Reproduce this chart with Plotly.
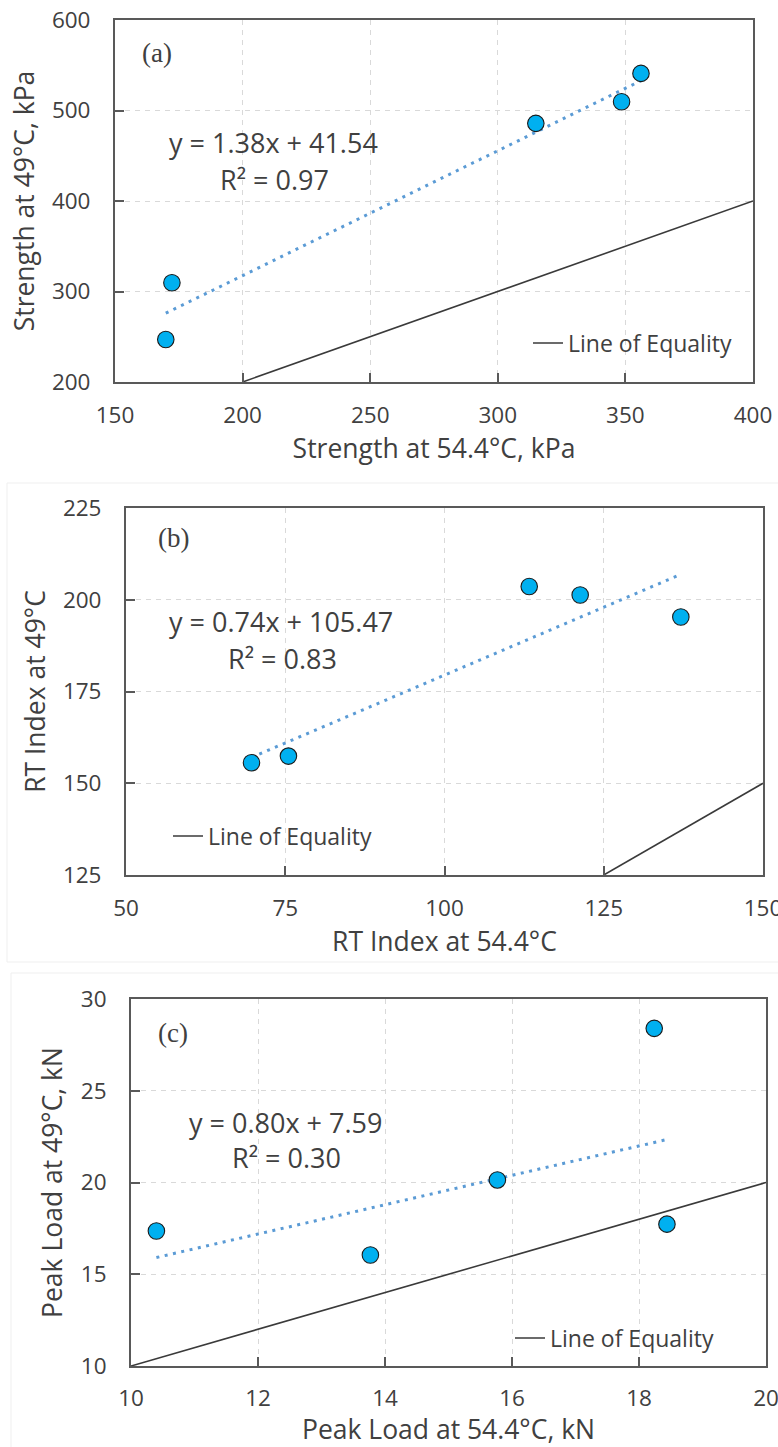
import plotly.graph_objects as go

W, H = 778, 1447

# (a) Strength, kPa
strength_544 = [169.9, 172.3, 314.9, 348.5, 356.1]
strength_49 = [247.0, 309.7, 485.8, 509.7, 541.0]
fit_a = (1.38, 41.54, 0.97)
equality_a = [200, 400]

# (b) RT Index
rt_544 = [69.7, 75.5, 113.3, 121.3, 137.1]
rt_49 = [155.6, 157.4, 203.6, 201.3, 195.3]
fit_b = (0.74, 105.47, 0.83)
equality_b = [125, 150]

# (c) Peak load, kN
load_544 = [10.4, 13.77, 15.77, 18.24, 18.44]
load_49 = [17.36, 16.05, 20.14, 28.4, 17.73]
fit_c = (0.80, 7.59, 0.30)
equality_c = [10, 20]

FONT = "Open Sans"
INK = "#404040"
FRAME = "#595959"
POINT = "#00b0f0"
TREND = "#5b9bd5"


def px(x):
    return x / W


def py(y):
    return 1 - y / H


panels = [
    dict(name="a", x=strength_544, y=strength_49, fit=fit_a, eq=equality_a,
         xr=[150, 400], xd=50, yr=[200, 600], yd=100,
         xdom=[px(115), px(753)], ydom=[py(382), py(20)],
         xtitle="Strength at 54.4°C, kPa", ytitle="Strength at 49°C, kPa",
         tag=(157, 53), eqpos=(273, 142), r2pos=(274, 180), leg=(528, 343),
         xstand=(12, 7)),
    dict(name="b", x=rt_544, y=rt_49, fit=fit_b, eq=equality_b,
         xr=[50, 150], xd=25, yr=[125, 225], yd=25,
         xdom=[px(126), px(763)], ydom=[py(875), py(508)],
         xtitle="RT Index at 54.4°C", ytitle="RT Index at 49°C",
         tag=(173, 538), eqpos=(281, 622), r2pos=(282, 658), leg=(168, 836),
         xstand=(12, 7)),
    dict(name="c", x=load_544, y=load_49, fit=fit_c, eq=equality_c,
         xr=[10, 20], xd=2, yr=[10, 30], yd=5,
         xdom=[px(131), px(766)], ydom=[py(1366), py(999)],
         xtitle="Peak Load at 54.4°C, kN", ytitle="Peak Load at 49°C, kN",
         tag=(173, 1033), eqpos=(285, 1122), r2pos=(286, 1157), leg=(510, 1338),
         xstand=(11, 8)),
]

fig = go.Figure()
annotations = []
layout_axes = {}

for i, p in enumerate(panels):
    k = "" if i == 0 else str(i + 1)
    xa, ya = "x" + k, "y" + k
    legend_id = "legend" + k
    slope, intercept, r2 = p["fit"]

    # line of equality (y = x)
    fig.add_trace(go.Scatter(
        x=p["eq"], y=p["eq"], mode="lines", name="Line of Equality",
        line=dict(color="#3a3a3a", width=1.6),
        xaxis=xa, yaxis=ya, legend=legend_id, showlegend=True,
        hoverinfo="skip"))

    # linear trend line over the measured range
    x0, x1 = min(p["x"]), max(p["x"])
    fig.add_trace(go.Scatter(
        x=[x0, x1], y=[slope * x0 + intercept, slope * x1 + intercept],
        mode="lines", line=dict(color=TREND, width=3, dash="3px,5.5px"),
        xaxis=xa, yaxis=ya, showlegend=False, hoverinfo="skip"))

    # measurements
    fig.add_trace(go.Scatter(
        x=p["x"], y=p["y"], mode="markers",
        marker=dict(size=16.5, color=POINT, line=dict(color="#1a1a1a", width=1.1)),
        xaxis=xa, yaxis=ya, showlegend=False))

    axis_common = dict(
        showline=True, linecolor=FRAME, linewidth=2, mirror=True,
        ticks="inside", ticklen=9, tickwidth=1.5, tickcolor=FRAME,
        showgrid=True, gridcolor="#d9d9d9", gridwidth=1, griddash="5px,5px",
        zeroline=False, automargin=False, ticklabeloverflow="allow",
        tickfont=dict(family=FONT, size=22.5, color=INK),
    )
    layout_axes["xaxis" + k] = dict(
        axis_common, range=p["xr"], dtick=p["xd"], tick0=p["xr"][0],
        domain=p["xdom"], anchor=ya, ticklabelstandoff=p["xstand"][0],
        title=dict(text=p["xtitle"], font=dict(family=FONT, size=26.5, color=INK),
                   standoff=p["xstand"][1]))
    layout_axes["yaxis" + k] = dict(
        axis_common, range=p["yr"], dtick=p["yd"], tick0=p["yr"][0],
        domain=p["ydom"], anchor=xa, ticklabelstandoff=18,
        title=dict(text=p["ytitle"], font=dict(family=FONT, size=26.5, color=INK),
                   standoff=10))

    layout_axes[legend_id] = dict(
        x=px(p["leg"][0]), y=py(p["leg"][1]), xanchor="left", yanchor="middle",
        xref="paper", yref="paper", bgcolor="rgba(0,0,0,0)",
        font=dict(family=FONT, size=23, color=INK))

    label_common = dict(xref="paper", yref="paper", showarrow=False,
                        xanchor="center", yanchor="middle")
    annotations.append(dict(
        label_common, text="(" + p["name"] + ")",
        x=px(p["tag"][0]), y=py(p["tag"][1]),
        font=dict(family="Liberation Serif", size=27, color=INK)))
    annotations.append(dict(
        label_common, text=f"y = {slope:.2f}x + {intercept:.2f}",
        x=px(p["eqpos"][0]), y=py(p["eqpos"][1]),
        font=dict(family=FONT, size=27, color=INK)))
    annotations.append(dict(
        label_common, text=f"R² = {r2:.2f}",
        x=px(p["r2pos"][0]), y=py(p["r2pos"][1]),
        font=dict(family=FONT, size=27, color=INK)))

# faint outlines of the lower two figure panels
shapes = [
    dict(type="rect", xref="paper", yref="paper",
         x0=px(7), x1=px(779), y0=py(962), y1=py(483),
         line=dict(color="#efefef", width=1), layer="below"),
    dict(type="rect", xref="paper", yref="paper",
         x0=px(11), x1=px(779), y0=py(1450), y1=py(973),
         line=dict(color="#efefef", width=1), layer="below"),
]

fig.update_layout(
    width=W, height=H,
    margin=dict(l=0, r=0, t=0, b=0),
    paper_bgcolor="white", plot_bgcolor="white",
    font=dict(family=FONT, color=INK),
    annotations=annotations, shapes=shapes,
    **layout_axes,
)

fig.write_html("out.html")
